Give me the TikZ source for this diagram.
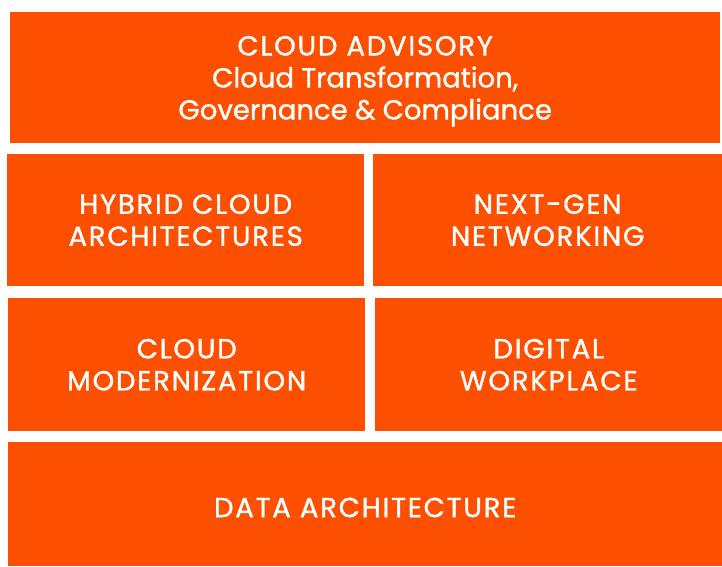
\documentclass[tikz,border=0pt]{standalone}
\usepackage{fontspec}
\setmainfont{Poppins}[LetterSpace=6.5,FakeBold=1.2]
\usepackage{tikz}

\newcommand{\plainspacing}{\addfontfeature{LetterSpace=0}}

\begin{document}
\begin{tikzpicture}[x=1pt,y=-1pt,
  tile/.style={fill=tileorange,text=white,anchor=north west,inner sep=0pt,
    align=center,font=\fontsize{27.5}{32}\selectfont,
    execute at begin node={\rule{0pt}{26pt}}}]
% Define colours
\definecolor{tileorange}{RGB}{252,80,0}

% Page frame
\useasboundingbox (0,0) rectangle (722,566);

% Top band
\node[tile,minimum width=710pt,minimum height=131pt,text depth=-1pt] (advisory) at (10,12)
  {CLOUD ADVISORY\\{\plainspacing Cloud Transformation,}\\
   {\plainspacing Governance \& Compliance}};

% Second row
\node[tile,minimum width=357pt,minimum height=132pt] (hybrid) at (7,154)
  {HYBRID CLOUD\\ARCHITECTURES};
\node[tile,minimum width=349pt,minimum height=132pt] (nextgen) at (373,154)
  {NEXT-GEN\\NETWORKING};

% Third row
\node[tile,minimum width=357pt,minimum height=133pt] (modern) at (8,298)
  {CLOUD\\MODERNIZATION};
\node[tile,minimum width=347pt,minimum height=133pt] (workplace) at (375,298)
  {DIGITAL\\WORKPLACE};

% Bottom band
\node[tile,minimum width=714pt,minimum height=124pt] (data) at (8,442)
  {DATA ARCHITECTURE};
\end{tikzpicture}
\end{document}
